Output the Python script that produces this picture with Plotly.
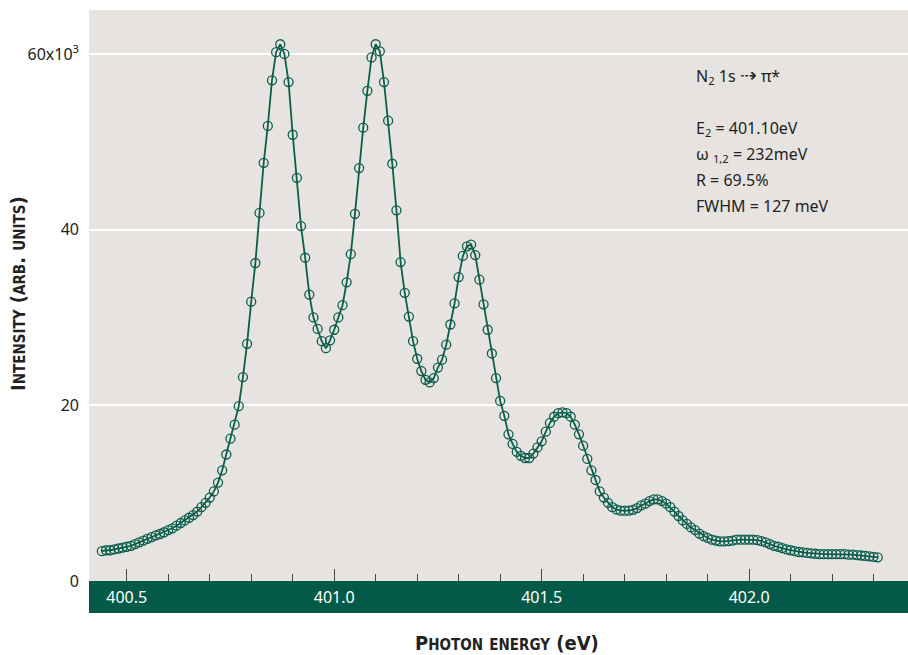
import plotly.graph_objects as go

# Photon energy (eV)
energy_ev = [
    400.44, 400.45, 400.46, 400.47, 400.48, 400.49, 400.50, 400.51, 400.52, 400.53,
    400.54, 400.55, 400.56, 400.57, 400.58, 400.59, 400.60, 400.61, 400.62, 400.63,
    400.64, 400.65, 400.66, 400.67, 400.68, 400.69, 400.70, 400.71, 400.72, 400.73,
    400.74, 400.75, 400.76, 400.77, 400.78, 400.79, 400.80, 400.81, 400.82, 400.83,
    400.84, 400.85, 400.86, 400.87, 400.88, 400.89, 400.90, 400.91, 400.92, 400.93,
    400.94, 400.95, 400.96, 400.97, 400.98, 400.99, 401.00, 401.01, 401.02, 401.03,
    401.04, 401.05, 401.06, 401.07, 401.08, 401.09, 401.10, 401.11, 401.12, 401.13,
    401.14, 401.15, 401.16, 401.17, 401.18, 401.19, 401.20, 401.21, 401.22, 401.23,
    401.24, 401.25, 401.26, 401.27, 401.28, 401.29, 401.30, 401.31, 401.32, 401.33,
    401.34, 401.35, 401.36, 401.37, 401.38, 401.39, 401.40, 401.41, 401.42, 401.43,
    401.44, 401.45, 401.46, 401.47, 401.48, 401.49, 401.50, 401.51, 401.52, 401.53,
    401.54, 401.55, 401.56, 401.57, 401.58, 401.59, 401.60, 401.61, 401.62, 401.63,
    401.64, 401.65, 401.66, 401.67, 401.68, 401.69, 401.70, 401.71, 401.72, 401.73,
    401.74, 401.75, 401.76, 401.77, 401.78, 401.79, 401.80, 401.81, 401.82, 401.83,
    401.84, 401.85, 401.86, 401.87, 401.88, 401.89, 401.90, 401.91, 401.92, 401.93,
    401.94, 401.95, 401.96, 401.97, 401.98, 401.99, 402.00, 402.01, 402.02, 402.03,
    402.04, 402.05, 402.06, 402.07, 402.08, 402.09, 402.10, 402.11, 402.12, 402.13,
    402.14, 402.15, 402.16, 402.17, 402.18, 402.19, 402.20, 402.21, 402.22, 402.23,
    402.24, 402.25, 402.26, 402.27, 402.28, 402.29, 402.30, 402.31,
]

# Intensity in units of 10^3 counts (arb. units)
intensity_k = [
    3.4, 3.5, 3.5, 3.6, 3.7, 3.8, 3.9, 4.0, 4.2, 4.4,
    4.6, 4.8, 5.0, 5.2, 5.35, 5.55, 5.8, 6.0, 6.3, 6.6,
    6.9, 7.2, 7.5, 7.9, 8.4, 8.9, 9.5, 10.2, 11.2, 12.6,
    14.4, 16.2, 17.8, 19.9, 23.2, 27.0, 31.8, 36.2, 41.9, 47.6,
    51.8, 57.0, 60.2, 61.1, 60.0, 56.8, 50.8, 45.9, 40.4, 36.8,
    32.6, 30.0, 28.7, 27.3, 26.5, 27.4, 28.6, 30.0, 31.4, 34.0,
    37.2, 41.8, 47.0, 51.6, 55.8, 59.6, 61.1, 60.3, 56.8, 52.4,
    47.5, 42.2, 36.3, 32.8, 30.1, 27.3, 25.3, 23.9, 22.9, 22.6,
    23.1, 24.3, 25.2, 26.9, 29.2, 31.6, 34.6, 37.0, 38.1, 38.3,
    37.1, 34.3, 31.5, 28.6, 25.9, 23.1, 20.5, 18.8, 16.7, 15.6,
    14.7, 14.25, 14.0, 14.0, 14.5, 15.2, 15.9, 17.0, 18.0, 18.7,
    19.1, 19.2, 19.1, 18.7, 17.8, 16.7, 15.4, 13.9, 12.6, 11.5,
    10.2, 9.5, 8.9, 8.4, 8.15, 8.0, 8.0, 8.0, 8.1, 8.3,
    8.6, 8.8, 9.1, 9.3, 9.3, 9.1, 8.8, 8.4, 7.9, 7.4,
    6.9, 6.5, 6.1, 5.8, 5.4, 5.1, 4.9, 4.7, 4.6, 4.5,
    4.5, 4.55, 4.6, 4.7, 4.7, 4.7, 4.7, 4.7, 4.65, 4.55,
    4.4, 4.2, 4.0, 3.9, 3.75, 3.6, 3.5, 3.4, 3.3, 3.25,
    3.2, 3.15, 3.1, 3.05, 3.05, 3.05, 3.05, 3.05, 3.05, 3.05,
    3.0, 3.0, 2.95, 2.9, 2.85, 2.8, 2.75, 2.7,
]

x_tick_vals = [400.5, 401.0, 401.5, 402.0]
x_tick_text = ["400.5", "401.0", "401.5", "402.0"]
y_tick_vals = [0, 20, 40, 60]
y_tick_text = ["0", "20", "40", "60x10<sup>3</sup>"]

info_lines = [
    "N<sub>2</sub> 1s <span style=\"font-size:20px\">\u21e2</span> \u03c0*",
    "E<sub>2</sub> = 401.10eV",
    "\u03c9 <sub>1,2</sub> = 232meV",
    "R = 69.5%",
    "FWHM = 127 meV",
]
info_y_px = [75, 128, 154, 180, 206]

GREEN = "#045a48"
LINE = "#0a5e4b"
BG = "#e7e3e0"
FONT = "Noto Sans"
TITLE_FONT = "DejaVu Sans Condensed"

fig = go.Figure()
fig.add_trace(go.Scatter(
    x=energy_ev, y=intensity_k, mode="lines+markers",
    line=dict(color=LINE, width=1.8),
    marker=dict(symbol="circle-open", size=9, color=LINE, line=dict(width=1.3)),
    showlegend=False, hoverinfo="skip",
))

W, H = 908, 655
ml, mr, mt, mb = 89, 0, 10, 74
plot_h = H - mt - mb
plot_w = W - ml - mr

fig.add_shape(type="rect", xref="paper", yref="paper", x0=0, x1=1,
              y0=-32 / plot_h, y1=0, fillcolor=GREEN, line=dict(width=0), layer="below")

annotations = []
for txt, ypx in zip(info_lines, info_y_px):
    annotations.append(dict(
        text=txt, xref="paper", yref="paper",
        x=(694 - ml) / plot_w, y=1 - (ypx - mt) / plot_h,
        xanchor="left", yanchor="middle", showarrow=False,
        font=dict(family=FONT, size=16, color="#222222"),
    ))


def small_caps(s, big, small):
    out = []
    for ch in s:
        if ch.isalpha() and ch.islower():
            out.append(f'<span style="font-size:{small}px">{ch.upper()}</span>')
        else:
            out.append(f'<span style="font-size:{big}px">{ch}</span>')
    return "".join(out)


x_title = small_caps("Photon energy (", 20, 15) + '<span style="font-size:20px">eV)</span>'
y_title = small_caps("Intensity (arb. units)", 20, 15)

annotations.append(dict(
    text="<b>" + x_title + "</b>",
    xref="paper", yref="paper", x=(507 - ml) / plot_w, y=1 - (643 - mt) / plot_h,
    xanchor="center", yanchor="middle", showarrow=False,
    font=dict(family=TITLE_FONT, size=20, color="#222222"),
))
annotations.append(dict(
    text="<b>" + y_title + "</b>",
    xref="paper", yref="paper", x=-(ml - 18) / plot_w, y=1 - (294 - mt) / plot_h,
    xanchor="center", yanchor="middle", showarrow=False, textangle=-90,
    font=dict(family=TITLE_FONT, size=20, color="#222222"),
))

fig.update_layout(
    width=W, height=H,
    margin=dict(l=ml, r=mr, t=mt, b=mb, pad=0),
    paper_bgcolor="white", plot_bgcolor=BG,
    font=dict(family=FONT, size=16, color="#222222"),
    annotations=annotations,
    xaxis=dict(
        range=[400.409, 402.383], showgrid=False, zeroline=False, showline=False,
        tickvals=x_tick_vals, ticktext=x_tick_text,
        ticks="inside", ticklen=12, tickwidth=1, tickcolor="#444444",
        tickfont=dict(family=FONT, size=16, color="white"),
        ticklabelstandoff=5,
        minor=dict(dtick=0.1, tick0=400.5, ticks="inside", ticklen=7,
                   tickwidth=1, tickcolor="#444444", showgrid=False),
    ),
    yaxis=dict(
        range=[0, 65.0], showgrid=True, gridcolor="white", gridwidth=1.8,
        zeroline=False, showline=False,
        tickvals=y_tick_vals, ticktext=y_tick_text, ticks="",
        tickfont=dict(family=FONT, size=16, color="#222222"),
        ticklabelstandoff=9,
    ),
)

fig.write_html("out.html")
